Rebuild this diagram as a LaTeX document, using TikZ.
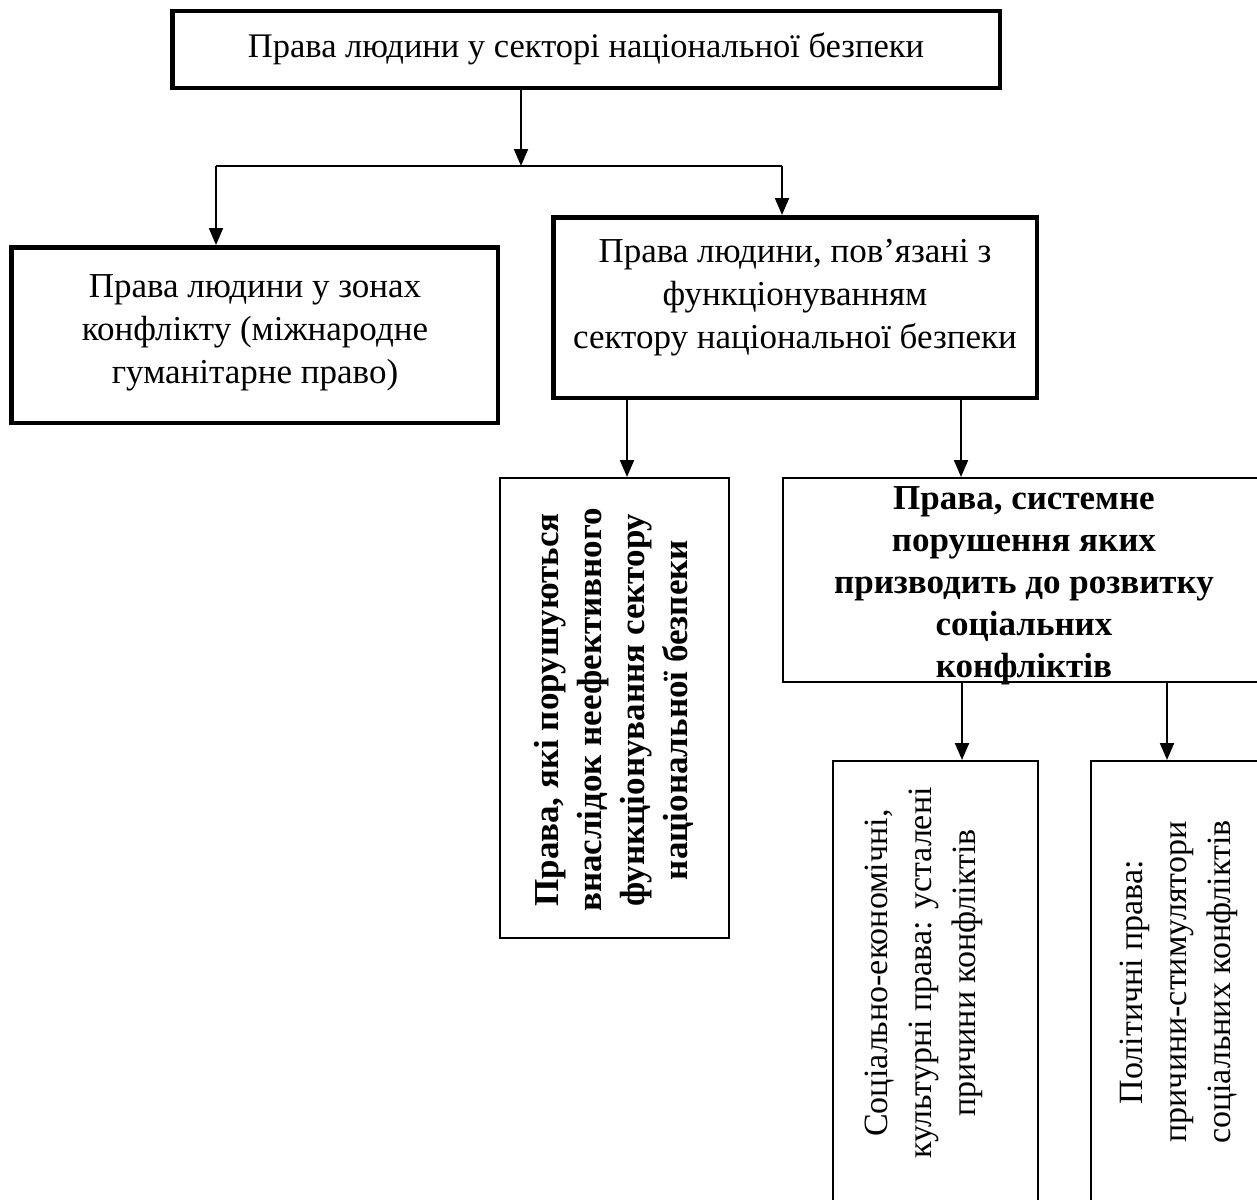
\documentclass[tikz,border=0pt]{standalone}
\usepackage{fontspec}
\setmainfont{Liberation Serif}
\usetikzlibrary{arrows.meta}
\begin{document}
\begin{tikzpicture}[x=1pt,y=-1pt,
  every node/.style={font=\fontsize{35}{43}\selectfont},
  heavybox/.style={draw, line width=4.5pt, inner sep=0pt},
  lightbox/.style={draw, line width=2pt, inner sep=0pt},
  caption/.style={align=center, inner sep=0pt},
  sidecaption/.style={caption, rotate=90, font=\fontsize{34}{44}\selectfont},
  link/.style={line width=2pt},
  arr/.style={link, -{Triangle[length=17pt,width=14pt]}}]
\clip (0,0) rectangle (1257,1199);

% boxes
\node[heavybox, minimum width=827.5, minimum height=76.5] (top) at (586,49.5) {};
\node[heavybox, minimum width=486.5, minimum height=175.5] (left) at (254.5,335) {};
\node[heavybox, minimum width=483.5, minimum height=180.5] (mid) at (795,307.5) {};
\node[lightbox, minimum width=229, minimum height=460] (vbox) at (614.5,708) {};
\node[lightbox, minimum width=482, minimum height=204] (rbox) at (1024,580) {};
\node[lightbox, minimum width=205, minimum height=448] (sebox) at (935.5,985) {};
\node[lightbox, minimum width=178, minimum height=448] (polbox) at (1180,985) {};

% captions
\node[caption, font=\fontsize{34.5}{43}\selectfont] (toptext) at (586,49) {Права людини у секторі національної безпеки};
\node[caption] (lefttext) at (255,333) {Права людини у зонах\\конфлікту (міжнародне\\гуманітарне право)};
\node[caption] (midtext) at (795,298) {Права людини, пов’язані з\\функціонуванням\\сектору національної безпеки};
\node[caption, rotate=90, font=\fontsize{35}{43}\selectfont\bfseries] (vtext) at (614,710)
  {Права, які порушуються\\внаслідок неефективного\\функціонування сектору\\національної безпеки};
\node[caption, font=\fontsize{35}{42}\selectfont\bfseries] (rtext) at (1024,586)
  {Права, системне\\порушення яких\\призводить до розвитку\\соціальних\\конфліктів};
\node[sidecaption] (setext) at (924,973)
  {Соціально-економічні,\\культурні права: усталені\\причини конфліктів};
\node[sidecaption] (poltext) at (1179,982)
  {Політичні права:\\причини-стимулятори\\соціальних конфліктів};

% connectors
\coordinate (j) at (521,166);
\coordinate (jl) at (216,166);
\coordinate (jr) at (782,166);
\draw[arr] (top.south -| j) -- (j);
\draw[link] (jl) -- (jr);
\draw[arr] (jl) -- (jl |- left.north);
\draw[arr] (jr) -- (jr |- mid.north);
\coordinate (m1) at (627,0);
\coordinate (m2) at (961,0);
\draw[arr] (mid.south -| m1) -- (vbox.north -| m1);
\draw[arr] (mid.south -| m2) -- (rbox.north -| m2);
\coordinate (r1) at (962,0);
\coordinate (r2) at (1167,0);
\draw[arr] (rbox.south -| r1) -- (sebox.north -| r1);
\draw[arr] (rbox.south -| r2) -- (polbox.north -| r2);
\end{tikzpicture}
\end{document}
